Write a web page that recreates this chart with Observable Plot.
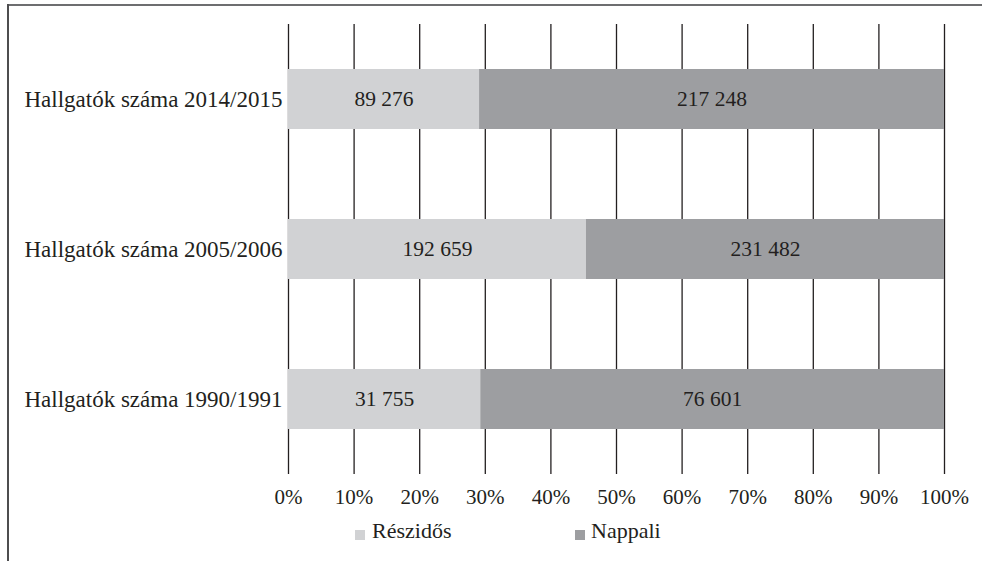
<!DOCTYPE html>
<html>
<head>
<meta charset="utf-8">
<script src="https://cdn.jsdelivr.net/npm/d3@7"></script>
<script src="https://cdn.jsdelivr.net/npm/@observablehq/plot@0.6"></script>
<style>
  html, body { margin: 0; padding: 0; background: #fff; }
  #wrap { position: relative; width: 982px; height: 561px; overflow: hidden; font-family: "Liberation Serif", "DejaVu Serif", serif; color: #231f20; }
  #wrap svg { position: absolute; left: 0; top: 0; }
  .frame-top { position: absolute; left: 8px; top: 4px; width: 974px; height: 2px; background: #6d6e70; }
  .frame-left { position: absolute; left: 7px; top: 4px; width: 1.5px; height: 557px; background: #4d4d4f; }
  .sw { position: absolute; width: 10px; height: 10px; top: 530px; }
  .lt { position: absolute; top: 520px; font-size: 22px; line-height: 22px; white-space: nowrap; }
</style>
</head>
<body>
<div id="wrap">
  <div class="frame-top"></div>
  <div class="frame-left"></div>
</div>
<script>
const categories = ["Hallgatók száma 2014/2015", "Hallgatók száma 2005/2006", "Hallgatók száma 1990/1991"];
const series = ["Részidős", "Nappali"];
const reszidos = [89276, 192659, 31755];
const nappali = [217248, 231482, 76601];
const seriesColors = ["#d1d2d4", "#9d9ea1"];
const xTicks = [0, 0.1, 0.2, 0.3, 0.4, 0.5, 0.6, 0.7, 0.8, 0.9, 1];

const values = [reszidos, nappali];
const data = [];
series.forEach((s, si) => {
  categories.forEach((c, ci) => data.push({cat: c, series: s, value: values[si][ci]}));
});

const huLocale = d3.formatLocale({decimal: ",", thousands: " ", grouping: [3], currency: ["", " Ft"]});
const fmt = huLocale.format(",d");

const textColor = "#231f20";

const chart = Plot.plot({
  width: 982,
  height: 515,
  marginLeft: 288,
  marginRight: 38,
  marginTop: 24,
  marginBottom: 41,
  style: "font-family: 'Liberation Serif', 'DejaVu Serif', serif; color: #231f20; background: transparent;",
  x: {domain: [0, 1], ticks: xTicks, tickFormat: d => Math.round(d * 100) + "%", label: null},
  y: {domain: categories, paddingInner: 0.6, paddingOuter: 0.3, label: null},
  color: {domain: series, range: seriesColors},
  marks: [
    Plot.gridX(xTicks, {stroke: "#231f20", strokeOpacity: 1, strokeWidth: 1.3}),
    Plot.barX(data, Plot.stackX({x: "value", y: "cat", fill: "series", z: "series", offset: "normalize", order: null})),
    Plot.textX(data, Plot.stackX({x: "value", y: "cat", z: "series", offset: "normalize", order: null, text: d => fmt(d.value), fill: textColor, fontSize: 21.5})),
    Plot.axisX(xTicks, {tickSize: 0, tickPadding: 15, fontSize: 21, fill: textColor, tickFormat: d => Math.round(d * 100) + "%"}),
    Plot.axisY({tickSize: 0, tickPadding: 6, fontSize: 23, fill: textColor})
  ]
});

const wrap = document.getElementById("wrap");
wrap.insertBefore(chart, wrap.firstChild);

// legend
const legendPos = [{sq: 355, tx: 372}, {sq: 575, tx: 591}];
series.forEach((s, i) => {
  const sw = document.createElement("div");
  sw.className = "sw";
  sw.style.left = legendPos[i].sq + "px";
  sw.style.background = seriesColors[i];
  wrap.appendChild(sw);
  const t = document.createElement("div");
  t.className = "lt";
  t.style.left = legendPos[i].tx + "px";
  t.textContent = s;
  wrap.appendChild(t);
});
</script>
</body>
</html>
